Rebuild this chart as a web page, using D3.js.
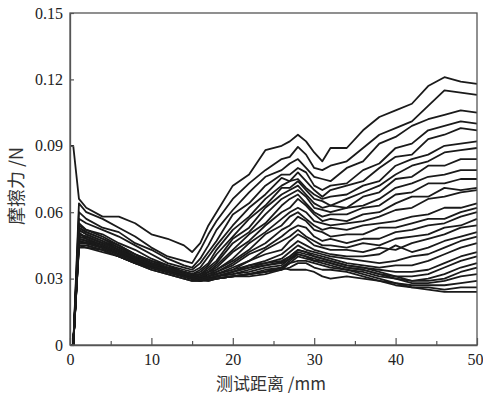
<!DOCTYPE html>
<html>
<head>
<meta charset="utf-8">
<script src="https://cdn.jsdelivr.net/npm/d3@7"></script>
<style>
  html, body { margin: 0; padding: 0; background: #fff; }
  svg { display: block; }
</style>
</head>
<body>
<svg id="chart" width="483" height="397"></svg>
<script>
// distance (mm) sample positions
const distance = [0, 0.4, 1.1, 2, 4, 6, 8, 10, 12, 14, 15, 16, 17, 18, 20, 22, 24, 26, 27, 28, 29, 30, 31, 32, 34, 36, 38, 40, 42, 44, 46, 48, 50];

// friction force (N) for each test run
const run01 = [0.090, 0.090, 0.066, 0.062, 0.058, 0.058, 0.055, 0.050, 0.048, 0.045, 0.042, 0.046, 0.054, 0.060, 0.072, 0.077, 0.088, 0.090, 0.092, 0.095, 0.092, 0.087, 0.083, 0.089, 0.089, 0.097, 0.103, 0.106, 0.109, 0.117, 0.121, 0.119, 0.118];
const run02 = [0, 0, 0.064, 0.060, 0.057, 0.053, 0.049, 0.044, 0.040, 0.038, 0.037, 0.043, 0.050, 0.056, 0.066, 0.073, 0.079, 0.084, 0.085, 0.0895, 0.086, 0.080, 0.079, 0.081, 0.083, 0.089, 0.095, 0.098, 0.101, 0.108, 0.115, 0.114, 0.113];
const run03 = [0, 0, 0.060, 0.057, 0.053, 0.051, 0.046, 0.043, 0.039, 0.036, 0.035, 0.039, 0.045, 0.052, 0.061, 0.069, 0.076, 0.079, 0.082, 0.084, 0.080, 0.076, 0.075, 0.074, 0.080, 0.083, 0.091, 0.094, 0.099, 0.102, 0.104, 0.106, 0.105];
const run04 = [0, 0, 0.057, 0.055, 0.052, 0.049, 0.045, 0.041, 0.037, 0.035, 0.034, 0.037, 0.042, 0.047, 0.059, 0.064, 0.072, 0.077, 0.077, 0.080, 0.078, 0.072, 0.070, 0.072, 0.073, 0.079, 0.082, 0.089, 0.091, 0.097, 0.099, 0.101, 0.100];
const run05 = [0, 0, 0.055, 0.052, 0.050, 0.046, 0.043, 0.039, 0.036, 0.034, 0.033, 0.035, 0.040, 0.045, 0.054, 0.062, 0.068, 0.0755, 0.074, 0.078, 0.074, 0.070, 0.067, 0.070, 0.072, 0.074, 0.080, 0.085, 0.086, 0.093, 0.095, 0.098, 0.097];
const run06 = [0, 0, 0.053, 0.051, 0.048, 0.045, 0.041, 0.038, 0.036, 0.033, 0.032, 0.034, 0.037, 0.043, 0.052, 0.058, 0.066, 0.072, 0.074, 0.075, 0.071, 0.068, 0.066, 0.067, 0.068, 0.072, 0.074, 0.081, 0.084, 0.086, 0.090, 0.091, 0.092];
const run07 = [0, 0, 0.052, 0.050, 0.047, 0.044, 0.041, 0.037, 0.035, 0.033, 0.032, 0.033, 0.036, 0.041, 0.049, 0.057, 0.063, 0.071, 0.071, 0.074, 0.070, 0.066, 0.065, 0.063, 0.066, 0.069, 0.072, 0.077, 0.081, 0.083, 0.087, 0.088, 0.089];
const run08 = [0, 0, 0.050, 0.049, 0.046, 0.043, 0.040, 0.037, 0.035, 0.032, 0.031, 0.032, 0.035, 0.038, 0.048, 0.053, 0.062, 0.068, 0.070, 0.072, 0.068, 0.064, 0.062, 0.063, 0.062, 0.067, 0.069, 0.075, 0.076, 0.081, 0.081, 0.084, 0.084];
const run09 = [0, 0, 0.049, 0.048, 0.045, 0.042, 0.039, 0.036, 0.034, 0.032, 0.031, 0.032, 0.034, 0.037, 0.046, 0.051, 0.059, 0.066, 0.068, 0.070, 0.067, 0.062, 0.061, 0.060, 0.062, 0.063, 0.066, 0.071, 0.073, 0.076, 0.077, 0.079, 0.079];
const run10 = [0, 0, 0.051, 0.048, 0.045, 0.042, 0.039, 0.036, 0.034, 0.032, 0.030, 0.031, 0.033, 0.036, 0.043, 0.050, 0.055, 0.063, 0.066, 0.068, 0.064, 0.060, 0.058, 0.059, 0.059, 0.062, 0.063, 0.068, 0.069, 0.073, 0.073, 0.075, 0.075];
const run11 = [0, 0, 0.048, 0.047, 0.044, 0.041, 0.038, 0.036, 0.034, 0.031, 0.030, 0.031, 0.033, 0.035, 0.042, 0.047, 0.054, 0.060, 0.062, 0.066, 0.063, 0.059, 0.056, 0.057, 0.056, 0.059, 0.060, 0.064, 0.067, 0.067, 0.071, 0.070, 0.071];
const run12 = [0, 0, 0.047, 0.046, 0.044, 0.041, 0.038, 0.035, 0.033, 0.031, 0.030, 0.030, 0.032, 0.034, 0.039, 0.046, 0.051, 0.057, 0.060, 0.062, 0.060, 0.056, 0.055, 0.054, 0.055, 0.056, 0.058, 0.061, 0.062, 0.066, 0.067, 0.069, 0.070];
const run13 = [0, 0, 0.053, 0.051, 0.048, 0.044, 0.040, 0.037, 0.035, 0.033, 0.032, 0.032, 0.033, 0.034, 0.038, 0.043, 0.050, 0.054, 0.058, 0.060, 0.057, 0.054, 0.052, 0.053, 0.052, 0.054, 0.055, 0.056, 0.058, 0.059, 0.062, 0.062, 0.064];
const run14 = [0, 0, 0.052, 0.050, 0.047, 0.043, 0.040, 0.037, 0.034, 0.032, 0.031, 0.031, 0.032, 0.033, 0.037, 0.042, 0.046, 0.052, 0.054, 0.058, 0.056, 0.052, 0.051, 0.049, 0.050, 0.050, 0.053, 0.053, 0.055, 0.057, 0.057, 0.060, 0.062];
const run15 = [0, 0, 0.050, 0.049, 0.046, 0.043, 0.039, 0.036, 0.034, 0.032, 0.031, 0.030, 0.031, 0.033, 0.036, 0.041, 0.044, 0.049, 0.052, 0.054, 0.053, 0.049, 0.047, 0.048, 0.046, 0.048, 0.048, 0.051, 0.052, 0.054, 0.055, 0.058, 0.060];
const run16 = [0, 0, 0.049, 0.048, 0.045, 0.042, 0.039, 0.036, 0.034, 0.032, 0.030, 0.030, 0.031, 0.032, 0.035, 0.038, 0.043, 0.047, 0.049, 0.052, 0.049, 0.047, 0.045, 0.045, 0.044, 0.046, 0.045, 0.048, 0.049, 0.050, 0.053, 0.054, 0.057];
const run17 = [0, 0, 0.048, 0.047, 0.045, 0.042, 0.038, 0.035, 0.033, 0.031, 0.030, 0.030, 0.031, 0.032, 0.034, 0.038, 0.041, 0.043, 0.047, 0.050, 0.048, 0.045, 0.044, 0.043, 0.043, 0.042, 0.044, 0.043, 0.046, 0.048, 0.050, 0.053, 0.054];
const run18 = [0, 0, 0.047, 0.046, 0.044, 0.041, 0.038, 0.035, 0.033, 0.031, 0.030, 0.029, 0.030, 0.031, 0.033, 0.036, 0.038, 0.041, 0.044, 0.047, 0.045, 0.043, 0.042, 0.041, 0.040, 0.040, 0.041, 0.045, 0.042, 0.044, 0.047, 0.049, 0.051];
const run19 = [0, 0, 0.046, 0.046, 0.044, 0.041, 0.038, 0.035, 0.033, 0.031, 0.030, 0.029, 0.030, 0.031, 0.033, 0.035, 0.037, 0.039, 0.042, 0.045, 0.043, 0.042, 0.041, 0.040, 0.039, 0.038, 0.037, 0.038, 0.040, 0.041, 0.044, 0.047, 0.049];
const run20 = [0, 0, 0.045, 0.045, 0.043, 0.040, 0.037, 0.035, 0.033, 0.031, 0.030, 0.030, 0.030, 0.031, 0.032, 0.034, 0.036, 0.0375, 0.040, 0.043, 0.042, 0.041, 0.040, 0.039, 0.037, 0.036, 0.035, 0.036, 0.036, 0.038, 0.041, 0.044, 0.046];
const run21 = [0, 0, 0.045, 0.044, 0.043, 0.040, 0.037, 0.034, 0.032, 0.030, 0.029, 0.029, 0.030, 0.031, 0.032, 0.033, 0.035, 0.036, 0.039, 0.042, 0.041, 0.040, 0.039, 0.038, 0.036, 0.035, 0.034, 0.033, 0.033, 0.034, 0.037, 0.040, 0.042];
const run22 = [0, 0, 0.044, 0.044, 0.042, 0.040, 0.037, 0.034, 0.032, 0.030, 0.029, 0.029, 0.029, 0.030, 0.031, 0.032, 0.033, 0.035, 0.038, 0.041, 0.040, 0.039, 0.038, 0.037, 0.035, 0.034, 0.032, 0.031, 0.031, 0.032, 0.035, 0.038, 0.040];
const run23 = [0, 0, 0.045, 0.045, 0.043, 0.040, 0.037, 0.035, 0.033, 0.031, 0.030, 0.030, 0.030, 0.030, 0.031, 0.032, 0.033, 0.034, 0.037, 0.040, 0.039, 0.038, 0.037, 0.036, 0.034, 0.033, 0.031, 0.030, 0.029, 0.030, 0.032, 0.035, 0.037];
const run24 = [0, 0, 0.046, 0.046, 0.044, 0.041, 0.038, 0.035, 0.033, 0.031, 0.030, 0.030, 0.031, 0.032, 0.034, 0.036, 0.037, 0.038, 0.040, 0.043, 0.042, 0.040, 0.039, 0.038, 0.036, 0.035, 0.033, 0.031, 0.029, 0.029, 0.030, 0.033, 0.035];
const run25 = [0, 0, 0.047, 0.046, 0.044, 0.041, 0.038, 0.035, 0.033, 0.031, 0.030, 0.030, 0.030, 0.031, 0.033, 0.035, 0.036, 0.037, 0.039, 0.041, 0.040, 0.038, 0.038, 0.037, 0.035, 0.034, 0.032, 0.030, 0.028, 0.028, 0.029, 0.031, 0.032];
const run26 = [0, 0, 0.048, 0.047, 0.045, 0.042, 0.039, 0.036, 0.034, 0.032, 0.031, 0.030, 0.030, 0.030, 0.031, 0.032, 0.033, 0.035, 0.037, 0.038, 0.038, 0.037, 0.036, 0.035, 0.034, 0.032, 0.030, 0.028, 0.027, 0.027, 0.027, 0.028, 0.029];
const run27 = [0, 0, 0.050, 0.049, 0.046, 0.043, 0.039, 0.036, 0.034, 0.032, 0.031, 0.030, 0.029, 0.030, 0.031, 0.031, 0.032, 0.034, 0.035, 0.037, 0.037, 0.035, 0.034, 0.034, 0.033, 0.031, 0.029, 0.027, 0.026, 0.026, 0.025, 0.026, 0.026];
const run28 = [0, 0, 0.054, 0.052, 0.049, 0.045, 0.041, 0.038, 0.035, 0.033, 0.032, 0.031, 0.030, 0.030, 0.031, 0.032, 0.034, 0.035, 0.034, 0.034, 0.034, 0.033, 0.031, 0.030, 0.031, 0.030, 0.029, 0.028, 0.026, 0.025, 0.024, 0.024, 0.024];

const runs = [run01, run02, run03, run04, run05, run06, run07, run08, run09, run10,
              run11, run12, run13, run14, run15, run16, run17, run18, run19, run20,
              run21, run22, run23, run24, run25, run26, run27, run28];

const xTicks = [0, 10, 20, 30, 40, 50];
const xMinorTicks = [5, 15, 25, 35, 45];
const yTicks = [0, 0.03, 0.06, 0.09, 0.12, 0.15];
const xLabel = "测试距离 /mm";
const yLabel = "摩擦力 /N";

const margin = {left: 70, right: 6, top: 13, bottom: 52};
const W = 483, H = 397;
const svg = d3.select("#chart");

const x = d3.scaleLinear().domain([0, 50]).range([margin.left, W - margin.right]);
const y = d3.scaleLinear().domain([0, 0.15]).range([H - margin.bottom, margin.top]);

const line = d3.line().x((d, i) => x(distance[i])).y(d => y(d));

svg.append("g")
  .selectAll("path")
  .data(runs)
  .join("path")
  .attr("d", d => line(d))
  .attr("fill", "none")
  .attr("stroke", "#1a1a1a")
  .attr("stroke-width", 1.8)
  .attr("stroke-linejoin", "round");

const serif = "'Liberation Serif', 'Times New Roman', serif";

// frame
svg.append("rect")
  .attr("x", x(0)).attr("y", y(0.15))
  .attr("width", x(50) - x(0)).attr("height", y(0) - y(0.15))
  .attr("fill", "none").attr("stroke", "#555").attr("stroke-width", 1.3);

// y axis
const gy = svg.append("g").attr("transform", `translate(${x(0)},0)`)
  .call(d3.axisLeft(y).tickValues(yTicks).tickSizeInner(-4).tickSizeOuter(0).tickPadding(7)
    .tickFormat(d => d === 0 ? "0" : d3.format(".2f")(d)));
gy.select(".domain").attr("stroke", "#555").attr("stroke-width", 1.3);
gy.selectAll(".tick line").attr("stroke", "#555").attr("stroke-width", 1.2);
gy.selectAll(".tick text").attr("font-family", serif).attr("font-size", 16).attr("fill", "#222");

// x axis
const gx = svg.append("g").attr("transform", `translate(0,${y(0)})`)
  .call(d3.axisBottom(x).tickValues(xTicks).tickSizeInner(-7).tickSizeOuter(0).tickPadding(9));
gx.select(".domain").attr("stroke", "#555").attr("stroke-width", 1.3);
gx.selectAll(".tick line").attr("stroke", "#555").attr("stroke-width", 1.2);
gx.selectAll(".tick text").attr("font-family", serif).attr("font-size", 16).attr("fill", "#222");
gx.selectAll(".tick text").filter(d => d === 50).attr("dx", -2);

const gxm = svg.append("g").attr("transform", `translate(0,${y(0)})`)
  .call(d3.axisBottom(x).tickValues(xMinorTicks).tickSizeInner(-4).tickSizeOuter(0).tickFormat(""));
gxm.select(".domain").remove();
gxm.selectAll(".tick line").attr("stroke", "#555").attr("stroke-width", 1.2);

// axis titles
svg.append("text")
  .attr("x", 271).attr("y", 390)
  .attr("text-anchor", "middle")
  .attr("font-family", "'Noto Sans CJK SC', sans-serif")
  .attr("font-size", 17).attr("fill", "#333")
  .text(xLabel);

svg.append("text")
  .attr("transform", `translate(23, 186) rotate(-90)`)
  .attr("text-anchor", "middle")
  .attr("font-family", "'Noto Sans CJK SC', sans-serif")
  .attr("font-size", 18).attr("fill", "#333")
  .text(yLabel);
</script>
</body>
</html>
